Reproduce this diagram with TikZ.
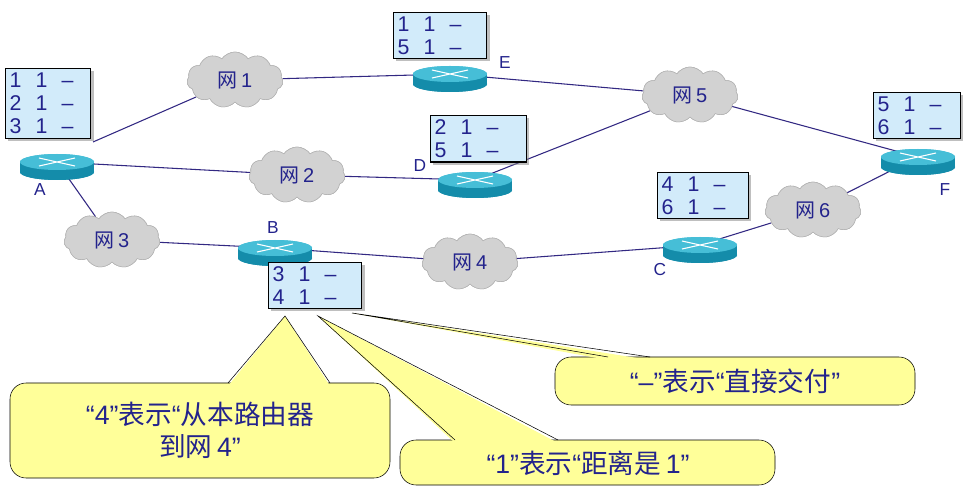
\documentclass[tikz,border=0pt]{standalone}
\usepackage{fontspec}
\setmainfont{Liberation Sans}
\newfontfamily\cjk{Noto Sans CJK SC}
\usetikzlibrary{shapes.symbols,shadows}
\definecolor{tx}{RGB}{35,35,140}
\definecolor{ln}{RGB}{50,40,130}
\definecolor{tb}{RGB}{210,235,250}
\definecolor{rt}{RGB}{20,140,170}
\definecolor{rtop}{RGB}{70,190,215}
\definecolor{yl}{RGB}{255,255,153}
\begin{document}
\begin{tikzpicture}[x=0.75pt,y=-0.75pt,
 net/.style={cloud,cloud puffs=11,cloud puff arc=110,aspect=1.7,fill=gray!35,draw=gray!60,minimum width=72pt,minimum height=42pt,font=\fontsize{15}{17}\selectfont,text=tx,inner sep=0pt},
 tab/.style={fill=tb,draw=black,thick,drop shadow={fill=gray,shadow xshift=2pt,shadow yshift=-2pt},align=left,font=\fontsize{16}{17.5}\selectfont,text=tx,anchor=north west,inner sep=3pt},
 lbl/.style={font=\fontsize{13}{15}\selectfont,text=tx},
 link/.style={ln,thick},
 co/.style={font=\fontsize{20}{24}\selectfont,text=tx,align=center}]
\useasboundingbox (0,0) rectangle (975,502);
\newcommand\router[2]{%
 \fill[rt] (#2) ++(-37,0) rectangle ++(74,10);
 \fill[rt] (#2) ++(0,10) ellipse (37 and 8);
 \fill[rtop] (#2) ellipse (37 and 8);
 \draw[white,thick] (#2) ++(-18,-4) -- ++(36,8) (#2) ++(-18,4) -- ++(36,-8);
 \coordinate (#1) at (#2);}
\newcommand\wang[1]{{\cjk 网}\,#1}
\router{A}{57,162}
\router{B}{275,248}
\router{E}{450,74}
\router{D}{475,180}
\router{C}{700,245}
\router{F}{918,157}
\node[net] (n1) at (235,80) {\wang1};
\node[net] (n2) at (297,175) {\wang2};
\node[net] (n3) at (112,240) {\wang3};
\node[net] (n4) at (470,262) {\wang4};
\node[net] (n5) at (690,95) {\wang5};
\node[net] (n6) at (813,210) {\wang6};
\draw[link] (93,142) -- (n1);
\draw[link] (n1) -- (E);
\draw[link] (E) -- (n5);
\draw[link] (n5) -- (F);
\draw[link] (A) -- (n2);
\draw[link] (n2) -- (D);
\draw[link] (D) -- (n5);
\draw[link] (A) -- (n3);
\draw[link] (n3) -- (B);
\draw[link] (B) -- (n4);
\draw[link] (n4) -- (C);
\draw[link] (C) -- (n6);
\draw[link] (n6) -- (F);
\node[net] at (235,80) {\wang1};
\node[net] at (297,175) {\wang2};
\node[net] at (112,240) {\wang3};
\node[net] at (470,262) {\wang4};
\node[net] at (690,95) {\wang5};
\node[net] at (813,210) {\wang6};
\router{A}{57,162}
\router{B}{275,248}
\router{E}{450,74}
\router{D}{475,180}
\router{C}{700,245}
\router{F}{918,157}
\node[tab,text width=58pt] (tA) at (5,68) {1\ \ 1\ \ –\\2\ \ 1\ \ –\\3\ \ 1\ \ –};
\node[tab,text width=64pt] (tE) at (393,12) {1\ \ 1\ \ –\\5\ \ 1\ \ –};
\node[tab,text width=66pt] (tD) at (430,115) {2\ \ 1\ \ –\\5\ \ 1\ \ –};
\node[tab,text width=64pt] (tB) at (268,262) {3\ \ 1\ \ –\\4\ \ 1\ \ –};
\node[tab,text width=62pt] (tC) at (657,172) {4\ \ 1\ \ –\\6\ \ 1\ \ –};
\node[tab,text width=59pt] (tF) at (873,92) {5\ \ 1\ \ –\\6\ \ 1\ \ –};
\node[lbl] (lA) at (40,190) {A};
\node[lbl] (lB) at (273,228) {B};
\node[lbl] (lE) at (505,63) {E};
\node[lbl] (lD) at (420,166) {D};
\node[lbl] (lC) at (660,270) {C};
\node[lbl] (lF) at (945,190) {F};
\coordinate (p1) at (285,316);
\coordinate (p2) at (318,316);
\coordinate (p3) at (352,313);
\draw[fill=yl,rounded corners=12pt] (10,383) rectangle (390,478);
\fill[yl] (p1) -- (228,386) -- (330,386) -- cycle;
\draw (228,383) -- (p1) -- (330,383);
\node[co] (c1) at (200,430) {“4”{\cjk 表示}“{\cjk 从本路由器}\\{\cjk 到网}\,4”};
\draw[fill=yl,rounded corners=12pt] (400,440) rectangle (775,485);
\fill[yl] (p2) -- (455,443) -- (558,443) -- cycle;
\draw (455,440) -- (p2) -- (558,440);
\node[co] (c2) at (588,463) {“1”{\cjk 表示}“{\cjk 距离是}\,1”};
\draw[fill=yl,rounded corners=12pt] (555,357) rectangle (915,405);
\fill[yl] (p3) -- (608,360) -- (650,360) -- cycle;
\draw (608,357) -- (p3) -- (650,357);
\node[co] (c3) at (735,381) {“–”{\cjk 表示}“{\cjk 直接交付}”};
\end{tikzpicture}
\end{document}
